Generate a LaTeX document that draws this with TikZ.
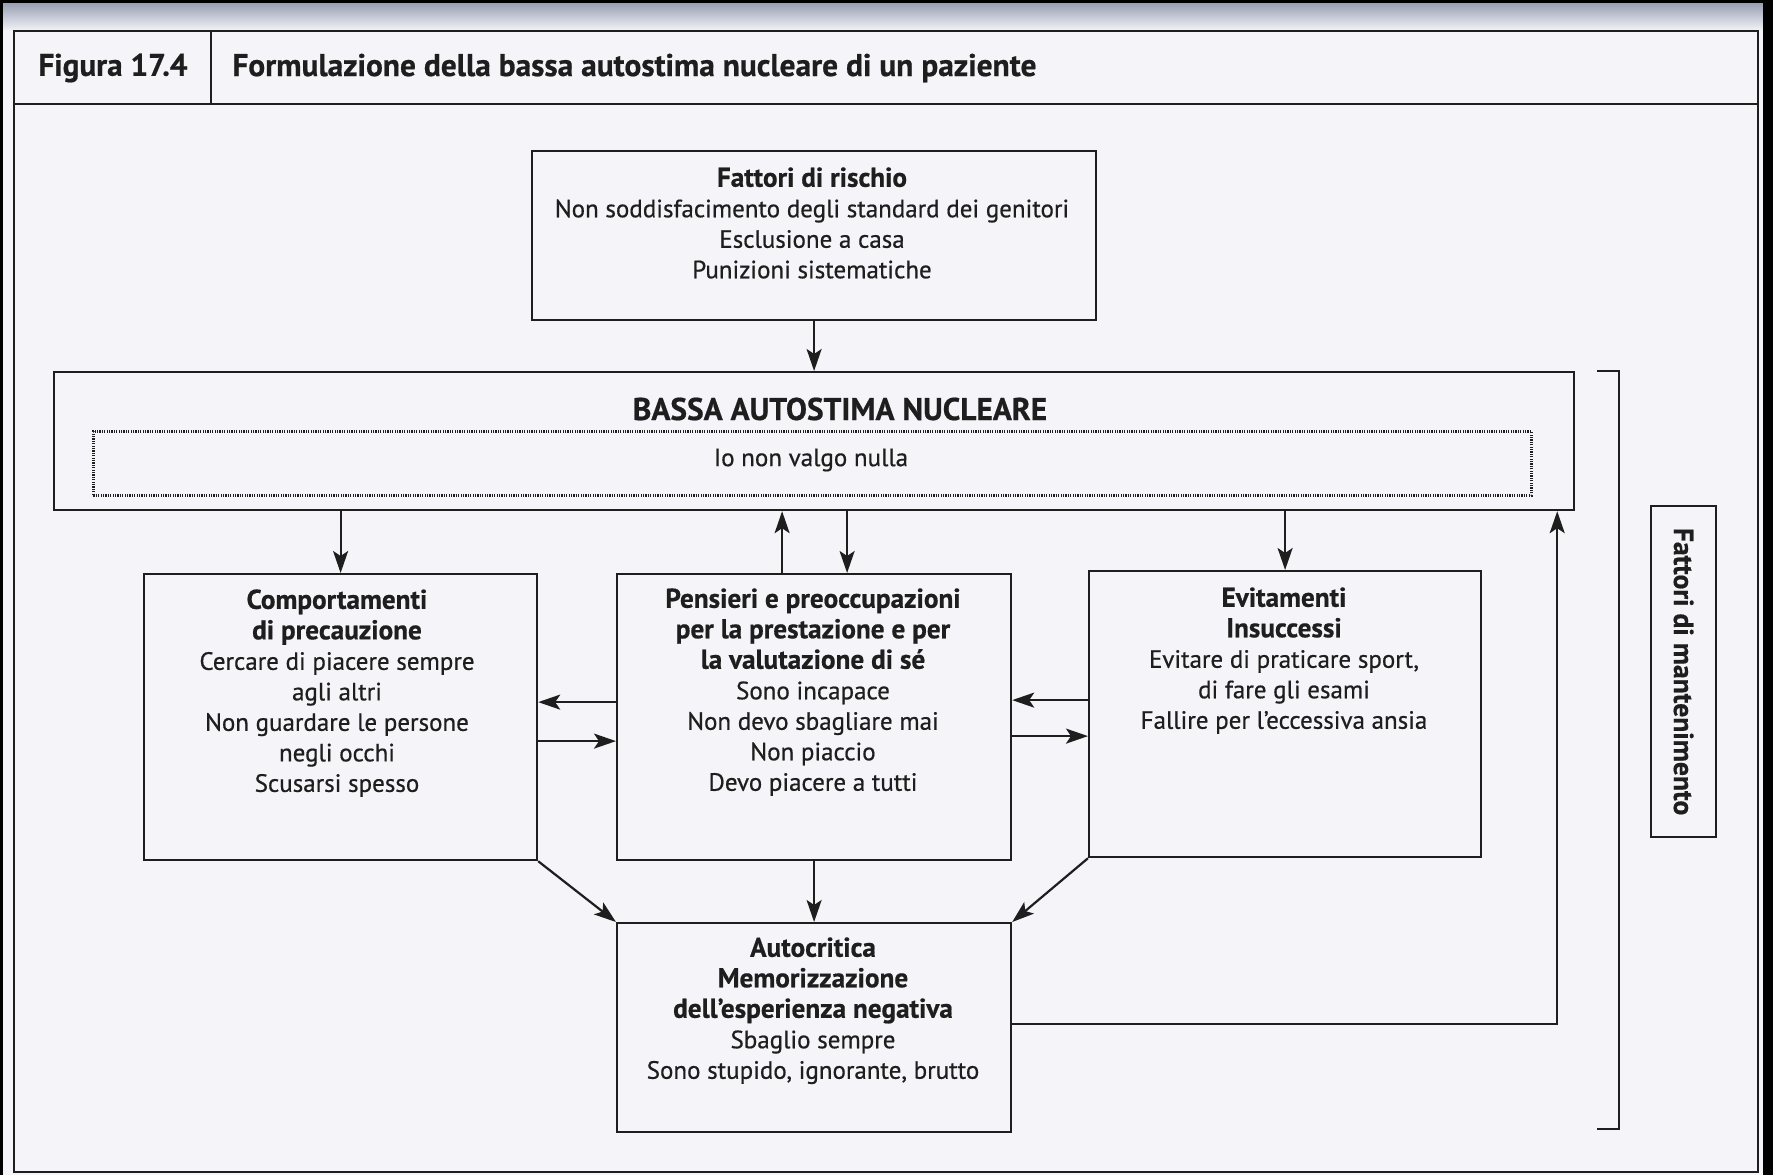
\documentclass[tikz,border=0pt]{standalone}
\usepackage{fontspec}
\setmainfont{PT Sans}[FakeBold=0.6]
\usetikzlibrary{arrows.meta}
\definecolor{ink}{HTML}{1E1E1E}
\definecolor{paper}{HTML}{F5F5F9}
\definecolor{edge}{HTML}{98A0B4}
\newcommand{\hd}[1]{{\fontsize{13.6}{15.25}\selectfont\bfseries #1}}
\begin{document}
\begin{tikzpicture}[x=0.5pt,y=-0.5pt,
  box/.style={draw=ink, line width=1.1pt, inner sep=0pt, anchor=north west},
  dotbox/.style={box, line width=1.3pt, dash pattern=on 0.6pt off 0.6pt},
  txt/.style={anchor=north, align=center, inner sep=0pt, text=ink,
    font=\fontsize{12.5}{15.25}\selectfont},
  ln/.style={draw=ink, line width=1.1pt},
  arr/.style={ln, -{Stealth[length=11pt,width=7.5pt,inset=2.5pt]}},
]
% page and scan edges
\useasboundingbox (0,0) rectangle (1773,1175);
\fill[paper] (0,0) rectangle (1773,1175);
\shade[top color=edge, bottom color=paper] (3,3) rectangle (1763,31);
\fill[black] (0,0) rectangle (1773,3);
\fill[black] (0,0) rectangle (3,1175);
\fill[black] (1763,0) rectangle (1773,1175);

% frame and heading
\draw[ln] (14,31) rectangle (1758,1172);
\draw[ln] (14,104) -- (1758,104);
\draw[ln] (211,31) -- (211,104);
\node[text=ink, font=\fontsize{15.6}{18}\selectfont\bfseries] (fig) at (113,68) {Figura 17.4};
\node[anchor=west, inner sep=0pt, text=ink, font=\fontsize{15.7}{18}\selectfont\bfseries] (title) at (232,68)
  {Formulazione della bassa autostima nucleare di un paziente};

% boxes
\node[box, minimum width=282pt, minimum height=84.5pt] (risk) at (531,150) {};
\node[box, minimum width=760pt, minimum height=69pt] (core) at (53,371) {};
\node[dotbox, minimum width=719pt, minimum height=32pt] (belief) at (92,430) {};
\node[box, minimum width=196.5pt, minimum height=143pt] (safety) at (143,573) {};
\node[box, minimum width=197pt, minimum height=143pt] (perf) at (616,573) {};
\node[box, minimum width=196pt, minimum height=143pt] (avoid) at (1088,570) {};
\node[box, minimum width=197pt, minimum height=104.5pt] (crit) at (616,922) {};
\node[box, minimum width=32.5pt, minimum height=165.5pt] (maint) at (1650,505) {};

% texts
\node[txt] (risk-t) at (812,167) {\hd{Fattori di rischio}\\Non soddisfacimento degli standard dei genitori\\Esclusione a casa\\Punizioni sistematiche};
\node[text=ink, font=\fontsize{15.7}{18}\selectfont\bfseries] (core-t) at (840,409) {BASSA AUTOSTIMA NUCLEARE};
\node[text=ink, font=\fontsize{12.5}{15.25}\selectfont] (belief-t) at (811,460) {Io non valgo nulla};
\node[txt] (safety-t) at (337,589) {\hd{Comportamenti}\\\hd{di precauzione}\\Cercare di piacere sempre\\agli altri\\Non guardare le persone\\negli occhi\\Scusarsi spesso};
\node[txt] (perf-t) at (813,588) {\hd{Pensieri e preoccupazioni}\\\hd{per la prestazione e per}\\\hd{la valutazione di sé}\\Sono incapace\\Non devo sbagliare mai\\Non piaccio\\Devo piacere a tutti};
\node[txt] (avoid-t) at (1284,587) {\hd{Evitamenti}\\\hd{Insuccessi}\\Evitare di praticare sport,\\di fare gli esami\\Fallire per l’eccessiva ansia};
\node[txt] (crit-t) at (813,937) {\hd{Autocritica}\\\hd{Memorizzazione}\\\hd{dell’esperienza negativa}\\Sbaglio sempre\\Sono stupido, ignorante, brutto};
\node[rotate=-90, text=ink, font=\fontsize{13.8}{16}\selectfont\bfseries] (maint-t) at (maint.center) {Fattori di mantenimento};

% connectors
\draw[arr] (risk.south) -- (core.north);
\draw[arr] (core.south -| safety.north) -- (safety.north);
\draw[arr] ([xshift=-16pt]perf.north) -- ([xshift=-16pt]perf.north |- core.south);
\draw[arr] ([xshift=16.5pt]perf.north |- core.south) -- ([xshift=16.5pt]perf.north);
\draw[arr] (core.south -| avoid.north) -- (avoid.north);
\draw[arr] ([yshift=7.5pt]perf.west) -- ([yshift=7.5pt]perf.west -| safety.east);
\draw[arr] ([yshift=-12pt]perf.west -| safety.east) -- ([yshift=-12pt]perf.west);
\draw[arr] ([yshift=8.5pt]perf.east -| avoid.west) -- ([yshift=8.5pt]perf.east);
\draw[arr] ([yshift=-9.5pt]perf.east) -- ([yshift=-9.5pt]perf.east -| avoid.west);
\draw[arr] (perf.south) -- (crit.north);
\draw[arr] (safety.south east) -- (crit.north west);
\draw[arr] (avoid.south west) -- (crit.north east);
\draw[arr] ([yshift=1.75pt]crit.east) -| ([xshift=-9pt]core.south east);

% bracket of the maintaining factors
\coordinate (brtop) at (1597,371);
\coordinate (brbot) at (1597,1129);
\draw[ln] (brtop) -- ++(22,0) |- (brbot);
\end{tikzpicture}
\end{document}
